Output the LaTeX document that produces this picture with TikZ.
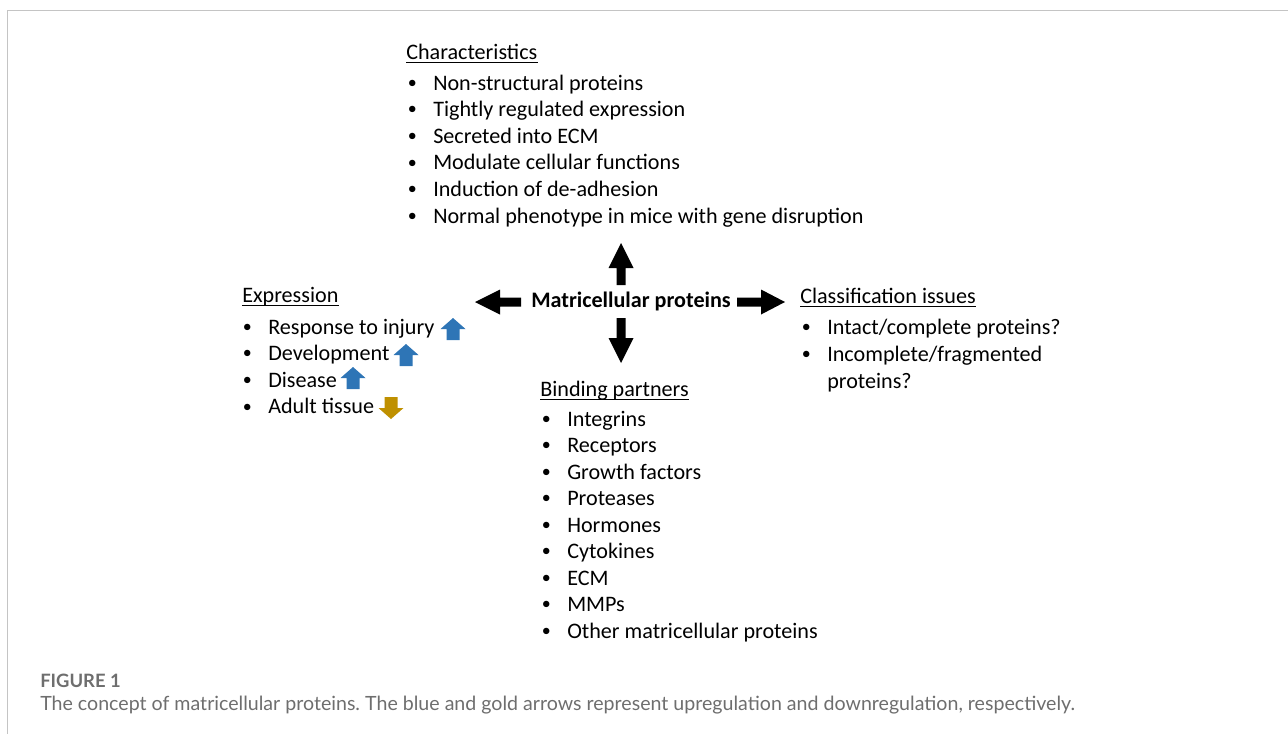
\documentclass[tikz,border=0pt]{standalone}
\usepackage{fontspec}
\setmainfont{Carlito}
\newfontfamily\capfont{Lato}
\frenchspacing
\definecolor{upblue}{HTML}{2E75B6}
\definecolor{downgold}{HTML}{BF9000}
\definecolor{framegray}{HTML}{C4C4C4}
\definecolor{capgray}{HTML}{6E6E6E}
\newcommand\smallbul{\raisebox{1.3pt}{\fontsize{13.5pt}{13.5pt}\selectfont\textbullet}}
\newcommand\bul{\llap{\smallbul\hspace{12.3pt}}}
% tail x, tail y, angle, length, shaft half width, head half width, head length, colour
\newcommand\fatarrow[8]{%
  \begin{scope}[shift={(#1,#2)},rotate=#3]
    \fill[#8] (0,-#5) -- ({#4-#7},-#5) -- ({#4-#7},-#6) -- (#4,0) -- ({#4-#7},#6) -- ({#4-#7},#5) -- (0,#5) -- cycle;
  \end{scope}}
\tikzset{
  txt/.style={inner sep=0pt, anchor=base west, font=\fontsize{16.6pt}{20pt}\selectfont},
  hdr/.style={txt},
  uline/.style={line width=1.1pt},
}
\begin{document}
\begin{tikzpicture}[x=0.75pt,y=-0.75pt]
\useasboundingbox (0,0) rectangle (1288,733);
% frame
\draw[framegray, line width=1.2pt] (7.5,740) -- (7.5,10.5) -- (1295,10.5);

% centre
\node[txt, anchor=base, font=\fontsize{16.6pt}{20pt}\selectfont\bfseries] (mp) at (631,307) {Matricellular proteins};
\fatarrow{621}{285}{90}{42}{4.5}{12.5}{25}{black}
\fatarrow{621}{318}{-90}{45}{4.5}{12.5}{25}{black}
\fatarrow{521}{302}{180}{46}{4.5}{12.5}{25}{black}
\fatarrow{737}{302}{0}{48}{4.5}{12.5}{24}{black}

% Characteristics
\node[hdr] (chh) at (406,59) {Characteristics};
\draw[uline] ([yshift=-2.6pt]chh.base west) -- ([yshift=-2.6pt]chh.base east);
\foreach \t [count=\i] in {Non-structural proteins, Tightly regulated expression, Secreted into ECM, Modulate cellular functions, Induction of de-adhesion, Normal phenotype in mice with gene disruption}
  \node[txt] (ch\i) at (433,{90+26.6*(\i-1)}) {\bul\t};

% Expression
\node[hdr] (exh) at (242,302) {Expression};
\draw[uline] ([yshift=-2.6pt]exh.base west) -- ([yshift=-2.6pt]exh.base east);
\foreach \t [count=\i] in {Response to injury, Development, Disease, Adult tissue}
  \node[txt] (ex\i) at (268,{334+26.6*(\i-1)}) {\bul\t};
\fatarrow{453}{340}{90}{22}{6.5}{12.5}{11}{upblue}
\fatarrow{406}{366}{90}{22}{6.5}{12.5}{11}{upblue}
\fatarrow{353}{389}{90}{22}{6.5}{12.5}{11}{upblue}
\fatarrow{391}{397}{-90}{22}{6.5}{12.5}{11}{downgold}

% Classification issues
\node[hdr] (clh) at (800,303) {Classification issues};
\draw[uline] ([yshift=-2.6pt]clh.base west) -- ([yshift=-2.6pt]clh.base east);
\node[txt] (cl1) at (827,334) {\bul Intact/complete proteins?};
\node[txt] (cl2) at (827,361) {\bul Incomplete/fragmented};
\node[txt] (cl3) at (827,388) {proteins?};

% Binding partners
\node[hdr] (bph) at (540,396) {Binding partners};
\draw[uline] ([yshift=-2.6pt]bph.base west) -- ([yshift=-2.6pt]bph.base east);
\foreach \t [count=\i] in {Integrins, Receptors, Growth factors, Proteases, Hormones, Cytokines, ECM, MMPs, Other matricellular proteins}
  \node[txt] (bp\i) at (567,{426+26.5*(\i-1)}) {\bul\t};

% caption
\node[inner sep=0pt, anchor=base west, font=\capfont\bfseries\fontsize{13.8pt}{16pt}\selectfont, text=capgray] (fig) at (40,687) {FIGURE 1};
\node[inner sep=0pt, anchor=base west, font=\capfont\fontsize{14.7pt}{17pt}\selectfont, text=capgray] (cap) at (40,710) {The concept of matricellular proteins. The blue and gold arrows represent upregulation and downregulation, respectively.};
\end{tikzpicture}
\end{document}
